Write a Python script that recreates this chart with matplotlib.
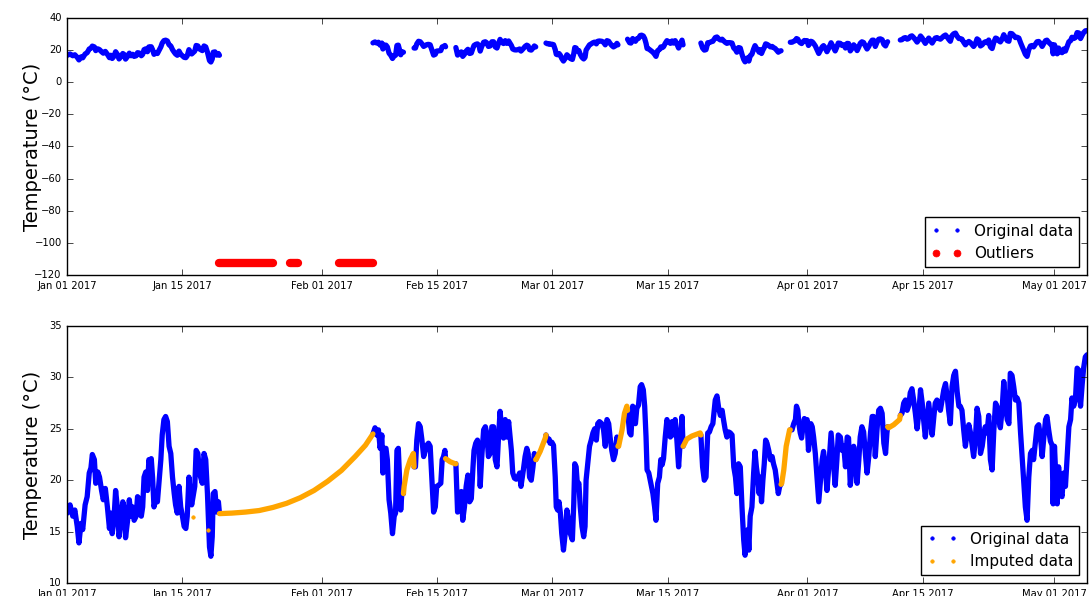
import matplotlib
matplotlib.use('Agg')
import matplotlib.pyplot as plt
import matplotlib.dates as mdates
from matplotlib.lines import Line2D
import numpy as np
import pandas as pd

plt.style.use('classic')

START = '2017-01-01 00:00'
NAN = float('nan')

# Original (non-outlier) hourly readings, sampled at turning points: hours since START, °C
orig_hours = [
    0, 8, 16, 22, 29, 34, 40, 45, 52, 58, 64, 69, 73, 79, 83, 89, 94, 100, 105, 111,
    117, 123, 127, 131, 136, 141, 146, 151, 156, 162, 167, 170, 176, 181, 186, 191, 195, 201, 205, 210,
    216, 220, 224, 229, 234, 238, 241, 245, 249, 253, 258, 263, 269, 273, 277, 282, 287, 292, 297, 302,
    307, 312, 316, 321, 326, 331, 336, 341, 346, 350, 355, 359, 363, 372, 376, 381, 386, 389, 394, 399,
    404, 409, 415, 419, 423, 426, 431, 436, 441, 444,
    668,
    892, 898, 903, 908, 913, 918, 921, 925, 930, 934, 939, 944, 949, 954, 958, 962, 966, 969, 973, 977, 981,
    996,
    1012, 1016, 1020, 1025, 1030, 1035, 1040, 1044, 1049, 1054, 1059, 1064, 1069, 1074, 1078, 1083, 1090, 1094, 1098, 1102, 1104,
    1118,
    1134, 1139, 1145, 1150, 1154, 1159, 1164, 1169, 1174, 1179, 1184, 1187, 1192, 1197, 1202, 1205, 1209, 1215, 1220, 1224,
    1229, 1234, 1239, 1244, 1249, 1254, 1258, 1263, 1268, 1273, 1278, 1283, 1288, 1293, 1296, 1300, 1305, 1310, 1315, 1320,
    1324, 1328, 1331, 1336, 1341, 1345, 1349, 1354, 1359, 1363, 1367,
    1382,
    1397, 1402, 1406, 1409, 1414, 1419, 1424, 1427, 1431, 1435, 1439, 1443, 1448, 1453, 1458, 1463, 1468, 1474, 1478, 1481,
    1485, 1489, 1493, 1497, 1502, 1507, 1511, 1514, 1518, 1524, 1529, 1534, 1539, 1544, 1548, 1553, 1560, 1565, 1570, 1575,
    1580, 1584, 1589, 1594, 1599, 1604, 1607,
    1620,
    1635, 1641, 1645, 1650, 1655, 1658, 1662, 1667, 1672, 1676, 1681, 1685, 1689, 1692, 1697, 1703, 1709, 1714, 1718, 1723,
    1728, 1732, 1736, 1740, 1745, 1750, 1755, 1760, 1765, 1769, 1774, 1779, 1784, 1789, 1794, 1797,
    1823,
    1849, 1854, 1859, 1864, 1869, 1874, 1879, 1884, 1891, 1896, 1901, 1906, 1911, 1915, 1920, 1925, 1930, 1935, 1940, 1945,
    1950, 1954, 1959, 1964, 1969, 1974, 1978, 1982, 1986, 1989, 1993, 1998, 2003, 2007, 2011, 2015, 2019, 2022, 2026, 2030,
    2034, 2038, 2042, 2047, 2052, 2057, 2061, 2066, 2071, 2075, 2079, 2083,
    2096,
    2110, 2115, 2120, 2125, 2128, 2132, 2135, 2139, 2143, 2147, 2151, 2155, 2159, 2163, 2167, 2170, 2174, 2178, 2183, 2188,
    2193, 2198, 2203, 2207, 2212, 2217, 2221, 2225, 2229, 2233, 2237, 2241, 2246, 2250, 2256, 2261, 2266, 2271, 2276, 2280,
    2285, 2290, 2295, 2300, 2305, 2310, 2314, 2319, 2324, 2329, 2334, 2339, 2344, 2349, 2353, 2358, 2363, 2368, 2373, 2378,
    2383, 2388, 2392, 2394,
    2412,
    2431, 2436, 2441, 2446, 2451, 2456, 2460, 2465, 2470, 2475, 2480, 2485, 2490, 2495, 2499, 2504, 2509, 2514, 2519, 2524,
    2529, 2533, 2538, 2543, 2548, 2553, 2558, 2563, 2568, 2572, 2577, 2582, 2587, 2592, 2597, 2602, 2606, 2611, 2616, 2621,
    2626, 2631, 2636, 2640, 2645, 2650, 2655, 2660, 2665, 2670, 2675, 2679, 2684, 2689, 2694, 2699, 2704, 2709, 2713, 2718,
    2723, 2728, 2733, 2738, 2743, 2748, 2752, 2757, 2762, 2767, 2772, 2777, 2782, 2786, 2791, 2796, 2801, 2806, 2811, 2816,
    2820, 2825, 2830, 2835, 2840, 2845, 2850, 2855, 2859, 2864, 2869, 2874, 2877, 2881, 2884, 2889, 2893, 2898, 2903, 2908,
    2913, 2918, 2923, 2928, 2932, 2937, 2942, 2947, 2952, 2957, 2962, 2966, 2971, 2976,
]
orig_temps = [
    16.8, 17.6, 16.5, 17.1, 15.5, 13.9, 15.8, 15.2, 17.6, 18.4, 20.7, 21.2, 22.5, 22.0, 19.7, 20.8, 20.3, 19.0, 18.1, 19.2,
    17.4, 15.3, 16.8, 14.8, 16.1, 19.0, 17.4, 14.5, 15.8, 17.9, 17.1, 14.4, 16.1, 18.1, 16.5, 17.4, 16.1, 16.5, 18.4, 18.2,
    16.5, 17.4, 20.3, 20.8, 19.0, 22.0, 21.6, 22.1, 20.2, 17.4, 18.1, 17.9, 20.3, 22.0, 24.4, 25.9, 26.2, 25.7, 23.3, 22.6,
    20.3, 18.7, 17.6, 16.8, 19.4, 17.4, 16.5, 15.5, 15.3, 16.5, 20.3, 18.7, 17.6, 19.4, 22.9, 22.6, 20.7, 20.3, 19.7, 22.6,
    22.0, 18.7, 13.5, 12.6, 14.5, 18.7, 18.9, 16.9, 17.9, 16.8,
    NAN,
    24.5, 25.1, 24.4, 24.9, 23.1, 24.4, 20.7, 23.1, 23.1, 22.0, 18.1, 16.8, 14.8, 16.5, 16.8, 22.9, 23.1, 20.7, 17.1, 19.0, 18.7,
    NAN,
    21.3, 21.3, 23.9, 25.5, 25.2, 23.9, 22.3, 22.8, 23.4, 23.6, 23.3, 20.0, 16.9, 17.4, 19.4, 19.5, 19.7, 22.0, 22.3, 22.9, 22.1,
    NAN,
    21.6, 16.9, 18.4, 18.9, 16.1, 17.4, 19.4, 20.5, 17.9, 18.2, 21.3, 22.9, 23.6, 23.9, 22.6, 19.4, 22.0, 24.9, 25.2, 24.6,
    22.3, 22.6, 25.2, 25.2, 22.0, 21.3, 23.9, 26.7, 24.9, 24.1, 25.9, 24.2, 25.7, 23.9, 22.9, 20.7, 20.2, 20.1, 20.3, 20.7,
    19.4, 20.3, 21.0, 22.3, 23.1, 22.6, 20.3, 20.0, 21.3, 22.6, 22.0,
    NAN,
    24.4, 23.9, 24.0, 23.6, 23.7, 23.4, 20.3, 17.4, 17.1, 17.9, 16.8, 14.8, 13.2, 14.8, 17.1, 16.1, 14.8, 14.2, 17.7, 21.6,
    21.3, 19.4, 19.7, 17.4, 15.5, 14.5, 15.5, 20.0, 21.3, 23.3, 23.9, 24.6, 25.0, 23.9, 25.5, 25.7, 25.5, 24.9, 23.3, 25.9,
    25.5, 24.2, 22.9, 22.0, 22.6, 24.2, 23.3,
    NAN,
    26.8, 24.6, 24.4, 27.2, 25.9, 25.5, 27.0, 27.3, 29.1, 29.3, 28.8, 27.2, 24.2, 21.0, 20.7, 19.7, 18.7, 17.4, 16.1, 19.7,
    20.3, 22.0, 21.5, 22.1, 24.2, 25.9, 25.2, 24.2, 25.7, 24.4, 25.9, 23.9, 21.3, 23.9, 26.2, 23.3,
    NAN,
    24.4, 21.3, 20.0, 20.3, 24.6, 24.7, 25.2, 25.5, 27.8, 28.2, 27.0, 26.3, 26.8, 25.9, 24.9, 24.2, 24.7, 24.6, 24.4, 21.3,
    20.3, 18.7, 21.6, 21.3, 17.4, 14.2, 12.7, 14.8, 15.2, 13.2, 16.5, 17.4, 20.7, 22.8, 21.3, 20.3, 18.7, 20.3, 17.9, 20.0,
    21.6, 23.9, 23.6, 22.9, 22.0, 22.3, 21.6, 21.0, 19.7, 18.7, 19.4, 19.6,
    NAN,
    24.9, 24.9, 25.5, 25.9, 27.2, 26.8, 25.5, 24.6, 24.1, 25.2, 26.0, 25.4, 25.9, 22.9, 24.2, 25.5, 25.2, 24.2, 22.6, 20.3,
    17.9, 20.0, 22.0, 22.8, 21.3, 19.0, 20.7, 22.6, 24.6, 22.9, 21.3, 19.5, 22.0, 24.4, 24.2, 22.9, 23.3, 21.3, 24.2, 24.1,
    19.5, 21.0, 23.3, 22.0, 19.7, 22.0, 24.2, 25.2, 24.7, 22.6, 20.7, 22.3, 24.6, 26.2, 26.2, 22.3, 24.9, 26.8, 27.0, 26.5,
    23.6, 22.6, 24.6, 25.2,
    NAN,
    26.3, 26.5, 27.5, 27.8, 26.8, 27.3, 28.5, 28.9, 27.8, 26.5, 25.0, 26.5, 28.8, 27.5, 25.9, 24.2, 25.9, 27.5, 25.9, 24.4,
    26.2, 27.5, 27.8, 27.2, 26.8, 27.8, 28.8, 29.4, 28.1, 26.8, 25.5, 29.1, 30.2, 30.6, 28.6, 27.2, 27.2, 26.8, 24.9, 23.3,
    24.6, 25.4, 24.6, 23.6, 22.3, 23.9, 27.0, 26.2, 22.6, 23.3, 24.6, 25.2, 24.6, 26.3, 22.0, 21.0, 24.9, 27.5, 27.2, 25.9,
    25.1, 26.8, 29.6, 27.5, 25.9, 25.5, 30.4, 30.2, 29.1, 27.8, 28.0, 27.5, 24.6, 22.6, 20.0, 17.4, 16.1, 20.3, 22.6, 22.9,
    22.0, 23.6, 25.2, 25.4, 24.2, 22.3, 24.2, 25.9, 26.2, 24.9, 23.8, 23.4, 17.7, 23.3, 21.0, 17.7, 21.3, 19.0, 18.4, 20.7,
    19.4, 22.3, 25.2, 25.9, 28.0, 27.2, 27.8, 30.9, 30.7, 27.2, 29.4, 30.9, 32.0, 32.2,
]

# Imputed values (gaps and outliers filled), hours since START, °C
imputed_hours = [
    444, 480, 520, 560, 600, 640, 680, 720, 760, 800, 840, 870, 892, NAN,
    981, 983, 991, 1001, 1010, 1012, NAN,
    1104, 1117, 1132, 1134, NAN,
    1367, 1368, 1380, 1395, 1397, NAN,
    1607, 1609, 1619, 1626, 1633, 1635, NAN,
    1797, 1799, 1808, 1823, 1847, 1849, NAN,
    2083, 2085, 2091, 2098, 2108, 2110, NAN,
    2394, 2397, 2412, 2429, 2431,
]
imputed_temps = [
    16.75, 16.8, 16.9, 17.05, 17.35, 17.75, 18.3, 19.0, 19.9, 20.95, 22.3, 23.4, 24.5, NAN,
    18.7, 19.4, 21.0, 22.0, 22.6, 21.3, NAN,
    22.1, 21.8, 21.6, 21.6, NAN,
    22.0, 22.0, 22.8, 24.1, 24.4, NAN,
    23.3, 23.3, 24.9, 26.5, 27.2, 26.8, NAN,
    23.3, 23.4, 24.0, 24.3, 24.6, 24.4, NAN,
    19.6, 19.7, 21.0, 23.3, 24.9, 24.9, NAN,
    25.2, 25.1, 25.4, 25.9, 26.3,
]
# Single imputed hours
imputed_single_hours = [368, 412]
imputed_single_temps = [16.4, 15.2]

# Outlier runs (hours since START) and their recorded value
outlier_start_hours = [444, 651, 793]
outlier_end_hours = [600, 674, 892]
outlier_value = -112.8

x_end_hours = 2976


def to_dates(hours):
    h = np.asarray(hours, dtype=float)
    base = mdates.date2num(pd.Timestamp(START).to_pydatetime())
    return base + h / 24.0


fig = plt.figure(figsize=(10.89, 5.96), dpi=100, facecolor='white')
ax1 = fig.add_axes([0.0618, 0.5386, 0.9364, 0.4312])
ax2 = fig.add_axes([0.0618, 0.0218, 0.9364, 0.4312])

ot = to_dates(orig_hours)
ov = np.asarray(orig_temps, dtype=float)
it = to_dates(imputed_hours)
iv = np.asarray(imputed_temps, dtype=float)

LW = 3.8
ORANGE = '#FFA500'

# --- top panel: original + outliers
ax1.plot(ot, ov, '-', color='b', lw=LW, solid_capstyle='round', solid_joinstyle='round')
for s, e in zip(outlier_start_hours, outlier_end_hours):
    ax1.plot(to_dates([s, e]), [outlier_value, outlier_value], '-', color='r', lw=6.0,
             solid_capstyle='round')
ax1.set_ylim(-120, 40)
ax1.set_yticks(np.arange(-120, 41, 20))

# --- bottom panel: original + imputed
ax2.plot(ot, ov, '-', color='b', lw=LW, solid_capstyle='round', solid_joinstyle='round')
ax2.plot(it, iv, '-', color=ORANGE, lw=LW, solid_capstyle='round', solid_joinstyle='round')
ax2.plot(to_dates(imputed_single_hours), imputed_single_temps, '.', color=ORANGE,
         markersize=5, markeredgecolor=ORANGE)
ax2.set_ylim(10, 35)
ax2.set_yticks(np.arange(10, 36, 5))

for ax in (ax1, ax2):
    ax.set_xlim(to_dates([0])[0], to_dates([x_end_hours])[0])
    ax.xaxis.set_major_locator(mdates.DayLocator(bymonthday=[1, 15]))
    ax.xaxis.set_major_formatter(mdates.DateFormatter('%b %d %Y'))
    ax.tick_params(axis='both', which='major', labelsize=7.2, direction='in',
                   top=True, right=True, length=4)
    ax.tick_params(axis='both', which='minor', length=0)
    ax.set_ylabel('Temperature (°C)', fontsize=14)
    ax.yaxis.set_label_coords(-0.0245, 0.5)
    ax.set_facecolor('white')

h_orig = Line2D([], [], color='b', marker='.', linestyle='none', markersize=5,
                markeredgecolor='b')
h_out = Line2D([], [], color='r', marker='o', linestyle='none', markersize=5,
               markeredgecolor='r')
h_imp = Line2D([], [], color=ORANGE, marker='.', linestyle='none', markersize=5,
               markeredgecolor=ORANGE)
ax1.legend([h_orig, h_out], ['Original data', 'Outliers'], loc='lower right',
           numpoints=2, fontsize=11, fancybox=False, framealpha=1)
ax2.legend([h_orig, h_imp], ['Original data', 'Imputed data'], loc='lower right',
           numpoints=2, fontsize=11, fancybox=False, framealpha=1)

fig.savefig('out.png', dpi=100, facecolor='white')
